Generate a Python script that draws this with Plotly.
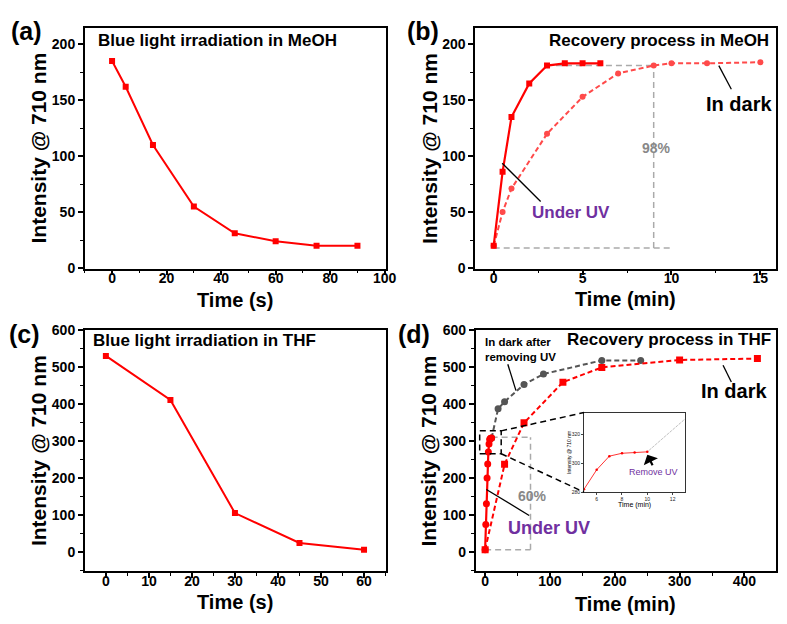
import plotly.graph_objects as go

W, H = 787, 624
def px(x): return x / W
def py(y): return 1 - y / H

# ---------------- data ----------------
a_time = [0, 5, 15, 30, 45, 60, 75, 90]
a_int = [185, 162, 110, 55, 31, 24, 20, 20]

b_uv_time = [0, 0.5, 1, 2, 3, 4, 5, 6]
b_uv_int = [20, 86, 135, 165, 181, 183, 183, 183]
b_dark_time = [0, 0.5, 1, 3, 5, 7, 9, 10, 12, 15]
b_dark_int = [20, 50, 71, 120, 153, 174, 181, 183, 183, 184]

c_time = [0, 15, 30, 45, 60]
c_int = [530, 411, 105, 24, 6]

d_uv_time = [0, 1, 2, 3, 4, 5, 6, 7, 8, 9, 10]
d_uv_int = [6, 74, 130, 200, 238, 270, 292, 304, 307, 307.5, 308]
d_dark_time = [0, 30, 60, 120, 180, 300, 420]
d_dark_int = [6, 237, 349, 459, 499, 519, 523]
d_after_time = [10, 20, 30, 60, 90, 180, 240]
d_after_int = [308, 387, 406, 453, 481, 518, 518]

inset_uv_time = [5, 6, 7, 8, 9, 10]
inset_uv_int = [282, 295.5, 305, 307, 307.5, 308]
inset_after_time = [10, 13]
inset_after_int = [308, 331]

# guide lines (data coordinates)
b_guides = [((0, 18), (9.9, 18)), ((9, 18), (9, 181)), ((3.5, 181), (9, 181))]
d_guides = [((0, 6), (70, 6)), ((70, 6), (70, 310)), ((10, 310), (70, 310))]
d_zoom_box = (-8.4, 265.5, 24.8, 328)

RED = "#FF0000"
RED_L = "#FF4A4A"
GRAY = "#555555"
PURPLE = "#7030A0"
FONT = "Liberation Sans, Arial, sans-serif"

fig = go.Figure()

# (a)
fig.add_trace(go.Scatter(x=a_time, y=a_int, mode="lines+markers", xaxis="x", yaxis="y",
                         line=dict(color=RED, width=2), marker=dict(symbol="square", size=6, color=RED)))
# (b)
fig.add_trace(go.Scatter(x=b_dark_time, y=b_dark_int, mode="lines+markers", xaxis="x2", yaxis="y2",
                         line=dict(color=RED_L, width=2, dash="5px,3px"),
                         marker=dict(symbol="circle", size=6, color=RED_L)))
fig.add_trace(go.Scatter(x=b_uv_time, y=b_uv_int, mode="lines+markers", xaxis="x2", yaxis="y2",
                         line=dict(color=RED, width=2.2), marker=dict(symbol="square", size=6, color=RED)))
# (c)
fig.add_trace(go.Scatter(x=c_time, y=c_int, mode="lines+markers", xaxis="x3", yaxis="y3",
                         line=dict(color=RED, width=2), marker=dict(symbol="square", size=6, color=RED)))
# (d)
fig.add_trace(go.Scatter(x=d_after_time, y=d_after_int, mode="lines+markers", xaxis="x4", yaxis="y4",
                         line=dict(color=GRAY, width=2, dash="5px,3px"),
                         marker=dict(symbol="circle", size=7, color=GRAY)))
fig.add_trace(go.Scatter(x=d_dark_time, y=d_dark_int, mode="lines+markers", xaxis="x4", yaxis="y4",
                         line=dict(color=RED, width=2, dash="5px,3px"),
                         marker=dict(symbol="square", size=7, color=RED)))
fig.add_trace(go.Scatter(x=d_uv_time, y=d_uv_int, mode="lines+markers", xaxis="x4", yaxis="y4",
                         line=dict(color=RED, width=2.2), marker=dict(symbol="circle", size=7, color=RED)))
# inset
fig.add_trace(go.Scatter(x=inset_after_time, y=inset_after_int, mode="lines", xaxis="x5", yaxis="y5",
                         line=dict(color="#888888", width=0.8, dash="1px,1px")))
fig.add_trace(go.Scatter(x=inset_uv_time, y=inset_uv_int, mode="lines+markers", xaxis="x5", yaxis="y5",
                         line=dict(color=RED, width=0.8), marker=dict(symbol="circle", size=2.5, color=RED)))

tickfont = dict(family=FONT, size=14, color="black", weight="bold")

def ax(domain, rng, dtick, minor, anchor, is_x):
    d = dict(domain=domain, range=rng, anchor=anchor, dtick=dtick, tick0=0,
             showline=True, linecolor="black", linewidth=1.6, mirror=True,
             ticks="outside", ticklen=5, tickwidth=1.5, tickcolor="black",
             minor=dict(dtick=minor, tick0=0, ticks="outside", ticklen=3, tickwidth=1.2, tickcolor="black"),
             showgrid=False, zeroline=False, tickfont=tickfont)
    if is_x:
        d["ticklabelstandoff"] = -9
    return d

top_y = [py(267), py(20)]
bot_y = [py(577), py(330)]
left_x = [px(86), px(391)]

layout = dict(
    width=W, height=H, autosize=False, margin=dict(l=0, r=0, t=0, b=0),
    paper_bgcolor="white", plot_bgcolor="white", showlegend=False,
    font=dict(family=FONT, color="black"),
    xaxis=ax(left_x, [-10, 100.3], 20, 10, "y", True),
    yaxis=ax(top_y, [-0.5, 215], 50, 25, "x", False),
    xaxis2=ax([px(482), 1.0], [-1.037, 15.88], 5, 2.5, "y2", True),
    yaxis2=ax(top_y, [-0.5, 215], 50, 25, "x2", False),
    xaxis3=ax(left_x, [-4.9, 65], 10, 5, "y3", True),
    yaxis3=ax(bot_y, [-52, 600], 100, 50, "x3", False),
    xaxis4=ax([px(482.5), 1.0], [-14.45, 448.7], 100, 50, "y4", True),
    yaxis4=ax(bot_y, [-52, 600], 100, 50, "x4", False),
    xaxis5=dict(domain=[px(592.3), px(695)], range=[5, 13], anchor="y5", tickvals=[6, 8, 10, 12],
                showline=True, linecolor="#333", linewidth=0.8, mirror=True, ticks="outside", ticklen=2,
                tickwidth=0.6, showgrid=False, zeroline=False, tickfont=dict(family=FONT, size=5, color="#222")),
    yaxis5=dict(domain=[py(496), py(415)], range=[280, 335], anchor="x5", tickvals=[280, 300, 320],
                showline=True, linecolor="#333", linewidth=0.8, mirror=True, ticks="outside", ticklen=2,
                tickwidth=0.6, showgrid=False, zeroline=False, tickfont=dict(family=FONT, size=5, color="#222")),
)
fig.update_layout(**layout)

shapes = []
for (x0, y0), (x1, y1) in b_guides:
    shapes.append(dict(type="line", xref="x2", yref="y2", x0=x0, y0=y0, x1=x1, y1=y1, layer="below",
                       line=dict(color="#AAAAAA", width=1.5, dash="6px,4px")))
for (x0, y0), (x1, y1) in d_guides:
    shapes.append(dict(type="line", xref="x4", yref="y4", x0=x0, y0=y0, x1=x1, y1=y1, layer="below",
                       line=dict(color="#AAAAAA", width=1.5, dash="6px,4px")))
bx0, by0, bx1, by1 = d_zoom_box
shapes.append(dict(type="rect", xref="x4", yref="y4", x0=bx0, y0=by0, x1=bx1, y1=by1,
                   line=dict(color="black", width=1.5, dash="6px,4px")))
# connectors from zoom box to inset (paper)
for (x0, y0, x1, y1) in [(508.3, 433.3, 592.3, 414.5), (508.3, 456.7, 592.3, 496)]:
    shapes.append(dict(type="line", xref="paper", yref="paper", x0=px(x0), y0=py(y0), x1=px(x1), y1=py(y1),
                       line=dict(color="black", width=1.5, dash="6px,4px")))
# pointer lines
for (x0, y0, x1, y1) in [(729, 59, 741.7, 83.3), (509.3, 159, 548.3, 198.3),
                         (733.3, 366, 741.7, 383.3), (493.3, 493.3, 536.7, 520),
                         (515, 365, 523.3, 392)]:
    shapes.append(dict(type="line", xref="paper", yref="paper", x0=px(x0), y0=py(y0), x1=px(x1), y1=py(y1),
                       line=dict(color="black", width=1.3)))
fig.update_layout(shapes=shapes)

ann = []
def text(x, y, s, size, color="black", xanchor="center", angle=0, bold=True):
    ann.append(dict(x=px(x), y=py(y), xref="paper", yref="paper", text=f"<b>{s}</b>" if bold else s,
                    showarrow=False, xanchor=xanchor, yanchor="middle", textangle=angle,
                    font=dict(family=FONT, size=size, color=color)))

# panel labels
text(27, 24, "(a)", 25)
text(429, 24, "(b)", 25)
text(25, 334, "(c)", 25)
text(420, 334, "(d)", 25)
# panel titles
text(97, 33, "Blue light irradiation in MeOH", 17, xanchor="left")
text(555, 33, "Recovery process in MeOH", 17, xanchor="left")
text(92, 341, "Blue light irradiation in THF", 17, xanchor="left")
text(573, 340, "Recovery process in THF", 17, xanchor="left")
# axis titles
for x, y in [(39, 143.5), (435, 143.5), (39, 453.5), (435, 453.5)]:
    text(x, y, "Intensity @ 710 nm", 21, angle=-90)
text(238.5, 299, "Time (s)", 20)
text(634, 298, "Time (min)", 20)
text(238.5, 609, "Time (s)", 20)
text(634, 611, "Time (min)", 20)
# labels
text(749, 98, "In dark", 20)
text(744, 392, "In dark", 20)
text(579, 210, "Under UV", 17, color=PURPLE)
text(557, 533, "Under UV", 18, color=PURPLE)
text(666, 143, "98%", 14, color="#888888")
text(540, 500, "60%", 14, color="#888888")
ann.append(dict(x=px(490), y=py(350), xref="paper", yref="paper",
                text="<b>In dark after<br>removing UV</b>", showarrow=False, xanchor="left", yanchor="middle",
                align="left", font=dict(family=FONT, size=11.5, color="black")))
# inset texts
text(663, 475, "Remove UV", 9, color=PURPLE, bold=False)
text(577, 455, "Intensity @ 710 nm", 5, angle=-90, bold=False)
text(643, 509, "Time (min)", 7, bold=False)
ann.append(dict(x=10, y=306, xref="x5", yref="y5", ax=6, ay=12, text="", showarrow=True,
                arrowhead=1, arrowsize=1.2, arrowwidth=2.2, arrowcolor="black"))
fig.update_layout(annotations=ann)

fig.write_html("out.html")
